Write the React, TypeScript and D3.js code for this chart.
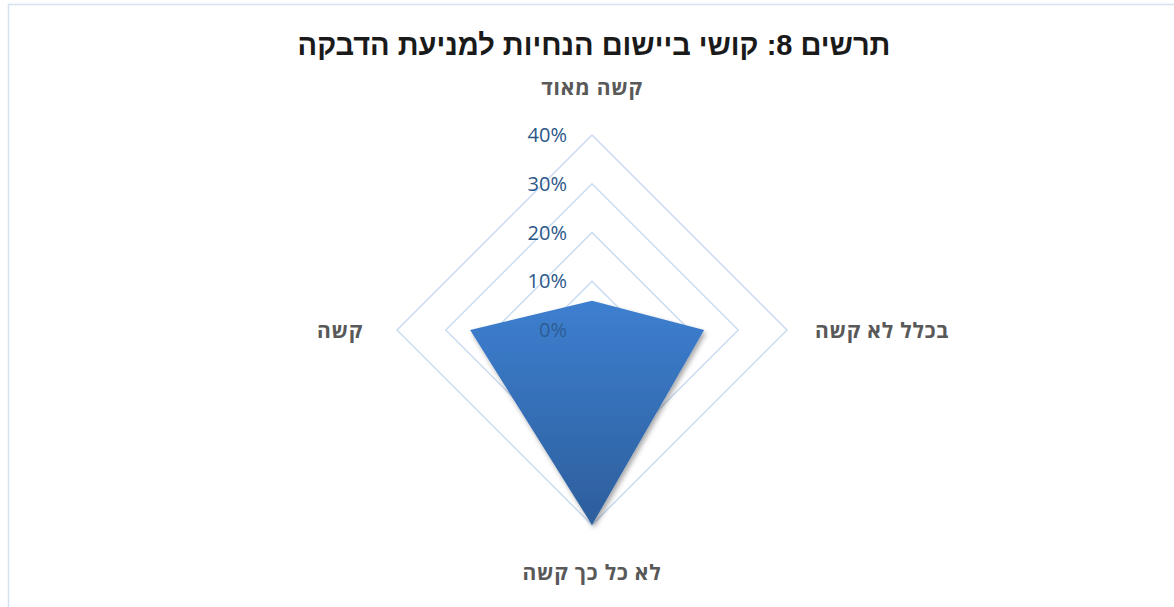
import React from "react";
import * as d3 from "d3";

const title = "תרשים 8: קושי ביישום הנחיות למניעת הדבקה";
const categories = ["קשה מאוד", "בכלל לא קשה", "לא כל כך קשה", "קשה"];
const values = [6, 23, 40, 25];
const ticks = [0, 10, 20, 30, 40];
const tickLabels = ["0%", "10%", "20%", "30%", "40%"];

const W = 1174;
const H = 607;
const cx = 592;
const cy = 330;
const R = 195;

export default function App() {
  const r = d3.scaleLinear().domain([0, 40]).range([0, R]);
  const angle = d3
    .scaleLinear()
    .domain([0, categories.length])
    .range([0, 2 * Math.PI]);

  const radial = d3
    .lineRadial<number>()
    .angle((_, i) => angle(i))
    .radius((d) => r(d))
    .curve(d3.curveLinearClosed);

  const ringPath = (v: number) => radial(categories.map(() => v)) || "";
  const dataPath = radial(values) || "";

  const labelOffsets = [
    { dx: 0, dy: -242, anchor: "middle" },
    { dx: 223, dy: 1, anchor: "start" },
    { dx: 0, dy: 243, anchor: "middle" },
    { dx: -229, dy: 1, anchor: "end" },
  ];

  return (
    <svg
      width={W}
      height={H}
      style={{ position: "absolute", left: 0, top: 0, display: "block" }}
    >
      <defs>
        <linearGradient id="fillGrad" x1="0" y1="0" x2="0" y2="1">
          <stop offset="0%" stopColor="#3d7fd0" />
          <stop offset="100%" stopColor="#2d5e9c" />
        </linearGradient>
        <filter id="shadow" x="-20%" y="-20%" width="140%" height="140%">
          <feDropShadow dx="2" dy="3" stdDeviation="2.5" floodColor="#000" floodOpacity="0.35" />
        </filter>
      </defs>
      <rect x={0} y={0} width={W} height={H} fill="#fff" />
      <rect x={8.5} y={4.5} width={1300} height={800} fill="none" stroke="#d4e2f2" strokeWidth={1.5} />

      <text
        x={594}
        y={55}
        textAnchor="middle"
        fontFamily="'Liberation Sans', Arial, sans-serif"
        fontWeight="bold"
        fontSize={29}
        fill="#1a1a1a"
        direction="rtl"
        style={{ unicodeBidi: "plaintext" } as any}
      >
        {title}
      </text>

      <g transform={`translate(${cx},${cy})`}>
        {ticks
          .filter((t) => t > 0)
          .map((t) => (
            <path key={t} d={ringPath(t)} fill="none" stroke="#c9dcf1" strokeWidth={1.5} />
          ))}
        <path d={dataPath} fill="url(#fillGrad)" filter="url(#shadow)" />
      </g>

      {ticks.map((t, i) => (
        <text
          key={t}
          x={cx - 25}
          y={cy - r(t)}
          dy="0.35em"
          textAnchor="end"
          fontFamily="'Open Sans', 'Liberation Sans', sans-serif"
          fontSize={20}
          fill="#2b5788"
          fillOpacity={t === 0 ? 0.85 : 1}
        >
          {tickLabels[i]}
        </text>
      ))}

      {categories.map((c, i) => {
        const o = labelOffsets[i];
        return (
          <text
            key={c}
            x={cx + o.dx}
            y={cy + o.dy}
            dy="0.35em"
            textAnchor={o.anchor as any}
            fontFamily="'Open Sans', 'Liberation Sans', sans-serif"
            fontWeight="bold"
            fontSize={21}
            letterSpacing={0.8}
            fill="#595959"
          >
            {c}
          </text>
        );
      })}
    </svg>
  );
}
